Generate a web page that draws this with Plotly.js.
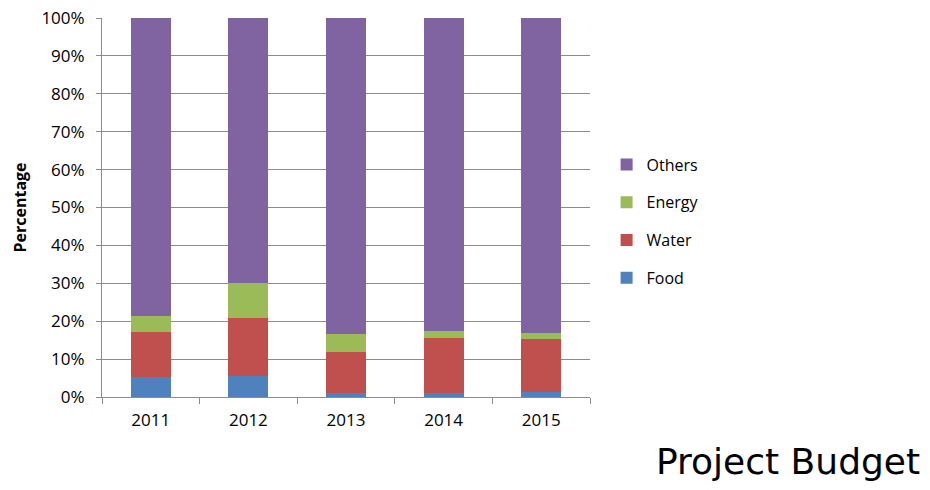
<!DOCTYPE html>
<html>
<head>
<meta charset="utf-8">
<script src="https://cdn.plot.ly/plotly-3.0.1.min.js"></script>
<style>html,body{margin:0;padding:0;background:#fff;}#chart{width:930px;height:490px;}</style>
</head>
<body>
<div id="chart"></div>
<script>
const years = ["2011", "2012", "2013", "2014", "2015"];
const food = [5.3, 5.6, 1.0, 1.0, 1.4];
const water = [11.9, 15.2, 11.0, 14.5, 13.8];
const energy = [4.2, 9.3, 4.6, 2.0, 1.6];
const others = [78.6, 69.9, 83.4, 82.5, 83.2];

const series = [
  {name: "Food", values: food, color: "#4F81BD", rank: 4},
  {name: "Water", values: water, color: "#C0504D", rank: 3},
  {name: "Energy", values: energy, color: "#9BBB59", rank: 2},
  {name: "Others", values: others, color: "#8064A2", rank: 1}
];

const traces = series.map(s => ({
  type: "bar",
  name: s.name,
  x: years,
  y: s.values,
  marker: {color: s.color},
  legendgroup: s.name,
  legendrank: s.rank,
  hoverinfo: "none"
}));

const layout = {
  width: 930, height: 490,
  margin: {l: 102, r: 340, t: 18, b: 93},
  paper_bgcolor: "#fff", plot_bgcolor: "#fff",
  barmode: "stack",
  bargap: 0.59,
  font: {family: "Open Sans, sans-serif", size: 16, color: "#000"},
  showlegend: true,
  legend: {
    x: 1.034, xanchor: "left", y: 0.463, yanchor: "middle",
    traceorder: "grouped",
    tracegroupgap: 14,
    font: {family: "Open Sans, sans-serif", size: 16, color: "#000"},
    itemwidth: 30
  },
  xaxis: {
    type: "category",
    showline: true, linecolor: "#8c8c8c", linewidth: 1,
    ticks: "outside", tickson: "boundaries", ticklen: 6, tickcolor: "#8c8c8c",
    showgrid: false,
    tickfont: {size: 17},
    ticklabelstandoff: 8,
    fixedrange: true
  },
  yaxis: {
    range: [0, 100], dtick: 10, ticksuffix: "%",
    showline: true, linecolor: "#8c8c8c", linewidth: 1,
    ticks: "outside", ticklen: 5, tickcolor: "#8c8c8c",
    showgrid: true, gridcolor: "#8c8c8c", gridwidth: 1,
    zeroline: false,
    tickfont: {size: 17},
    ticklabelstandoff: 8,
    title: {text: "Percentage", font: {size: 16, weight: "bold"}, standoff: 10},
    fixedrange: true
  },
  annotations: [{
    text: "Project Budget",
    xref: "paper", yref: "paper",
    x: 1.68, xanchor: "right",
    y: -0.171, yanchor: "middle",
    showarrow: false,
    font: {family: "DejaVu Sans, sans-serif", size: 36, color: "#000"}
  }]
};

Plotly.newPlot("chart", traces, layout, {displayModeBar: false, staticPlot: true});
</script>
</body>
</html>
